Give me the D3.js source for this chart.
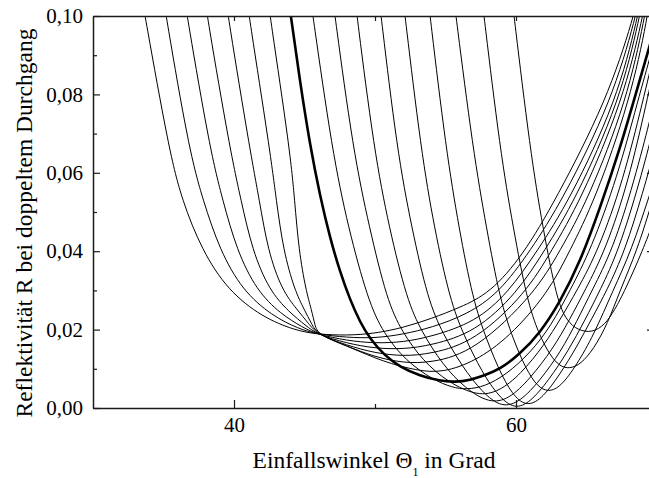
<!DOCTYPE html>
<html><head><meta charset="utf-8">
<script src="https://cdn.jsdelivr.net/npm/d3@7"></script>
<style>body{margin:0;background:#fff}svg{display:block}</style>
</head><body>
<svg id="chart" width="649" height="478"></svg>
<script>
const xMajorTicks = [40, 60];
const xMinorTicks = [50];
const xTickLabels = ["40", "60"];
const yMajorTicks = [0, 0.02, 0.04, 0.06, 0.08, 0.10];
const yMinorTicks = [0.01, 0.03, 0.05, 0.07, 0.09];
const yTickLabels = ["0,00", "0,02", "0,04", "0,06", "0,08", "0,10"];
const xTitle = "Einfallswinkel Θ";
const xTitleSub = "1";
const xTitleEnd = " in Grad";
const yTitle = "Reflektivität R bei doppeltem Durchgang";

const curve00 = [[33.2,0.11],[33.69,0.100],[35.39,0.0658],[36.31,0.0530],[37.73,0.0402],[39.57,0.0300],[41.99,0.0232],[44.33,0.0198],[45.9,0.0188],[48,0.0185],[50,0.0190],[52,0.0205],[54,0.0228],[56,0.0256],[58.16,0.0293],[60.5,0.039],[62.8,0.053],[66.45,0.0785],[68.37,0.100],[69,0.11]];
const curve01 = [[34.75,0.11],[35.18,0.100],[36.81,0.0658],[37.8,0.053],[39.0,0.0402],[40.6,0.030],[42.7,0.0235],[44.6,0.0202],[45.9,0.0188],[48,0.0180],[50,0.0178],[52,0.0188],[54,0.0205],[56.5,0.0238],[58.79,0.0293],[61.0,0.040],[63.3,0.053],[66.81,0.0785],[68.51,0.100],[69.1,0.11]];
const curve02 = [[36.25,0.11],[36.67,0.100],[38.30,0.0658],[39.2,0.053],[40.2,0.0402],[41.6,0.030],[43.3,0.0240],[44.9,0.0205],[45.9,0.0188],[48,0.0172],[50,0.0165],[52,0.0168],[54,0.0182],[57.1,0.0219],[59.43,0.0293],[61.5,0.040],[63.8,0.053],[67.16,0.0785],[68.65,0.100],[69.2,0.11]];
const curve03 = [[37.7,0.11],[38.09,0.100],[39.72,0.0658],[40.5,0.053],[41.3,0.0402],[42.5,0.030],[43.9,0.0245],[45.1,0.0210],[45.9,0.0188],[48,0.0165],[50,0.0152],[52,0.0150],[54,0.0160],[57.1,0.0193],[60.07,0.0293],[62.0,0.040],[64.2,0.053],[67.38,0.0785],[68.79,0.100],[69.3,0.11]];
const curve04 = [[39.2,0.11],[39.57,0.100],[41.13,0.0658],[41.8,0.053],[42.4,0.0402],[43.4,0.030],[44.5,0.025],[45.3,0.0215],[45.9,0.0188],[48,0.0160],[50,0.0140],[52,0.0132],[54,0.0138],[57.1,0.0170],[60.71,0.0293],[62.5,0.040],[64.6,0.053],[67.59,0.0785],[69.01,0.100],[69.5,0.11]];
const curve05 = [[40.7,0.11],[41.06,0.100],[42.55,0.0658],[43.0,0.053],[43.5,0.0402],[44.3,0.030],[45.0,0.025],[45.5,0.0215],[45.9,0.0188],[48,0.0158],[50,0.0130],[52,0.0115],[54,0.0115],[57.1,0.0145],[61.35,0.0293],[63.1,0.040],[65.1,0.053],[67.87,0.0785],[69.15,0.100],[69.6,0.11]];
const curve06 = [[42.2,0.11],[42.55,0.100],[43.97,0.0658],[44.3,0.053],[44.6,0.0402],[45.1,0.030],[45.5,0.025],[45.75,0.021],[45.95,0.0188],[48.23,0.0155],[50.57,0.0118],[53,0.0095],[54.8,0.0090],[57.1,0.0119],[59.5,0.018],[62.27,0.0293],[63.8,0.040],[65.6,0.053],[68.09,0.0785],[69.36,0.100],[69.7,0.11]];
const curve07 = [[43.7,0.108],[44.04,0.1000],[44.68,0.0832],[45.39,0.0671],[46.10,0.0541],[46.81,0.0434],[47.52,0.0347],[48.23,0.0276],[48.94,0.0219],[49.65,0.0176],[50.71,0.0133],[51.77,0.0105],[53.19,0.0082],[54.61,0.0069],[55.67,0.0066],[56.74,0.0071],[57.80,0.0084],[58.87,0.0099],[60.28,0.0138],[61.70,0.0191],[63.12,0.0270],[64.54,0.0372],[65.96,0.0510],[67.38,0.0663],[68.37,0.0786],[69.43,0.0918],[70.21,0.1015]];
const curve08 = [[45.2,0.11],[45.60,0.100],[46.95,0.0658],[48.1,0.046],[49.50,0.0275],[50.6,0.019],[52.2,0.0120],[54.1,0.0072],[55.5,0.0052],[56.5,0.0047],[57.8,0.0055],[59.3,0.0085],[61,0.0140],[62.5,0.0210],[63.83,0.0300],[65.3,0.0403],[67.2,0.059],[68.65,0.0785],[69.7,0.092]];
const curve09 = [[46.8,0.11],[47.16,0.100],[48.44,0.0658],[49.6,0.046],[50.85,0.0275],[51.9,0.0195],[53.4,0.0120],[55.2,0.0065],[57.3,0.0030],[58.8,0.0042],[60.3,0.0085],[62.0,0.0160],[63.2,0.0230],[64.33,0.0300],[65.85,0.0403],[67.6,0.058],[69.01,0.0785],[69.9,0.092]];
const curve10 = [[48.4,0.11],[48.72,0.100],[49.93,0.0658],[51.0,0.046],[52.27,0.0275],[53.3,0.0195],[54.8,0.0110],[56.4,0.0050],[58.1,0.0012],[59.5,0.0022],[61.0,0.0075],[62.6,0.0150],[63.8,0.0225],[64.89,0.0300],[66.35,0.0403],[68.0,0.058],[69.29,0.0785],[70,0.09]];
const curve11 = [[50.1,0.11],[50.43,0.100],[51.56,0.0658],[52.6,0.046],[53.76,0.0275],[54.8,0.0190],[56.2,0.0105],[57.6,0.0040],[59.0,0.0000],[60.3,0.0016],[61.7,0.0070],[63.2,0.0145],[64.3,0.0220],[65.39,0.0300],[66.85,0.0403],[68.4,0.058],[69.6,0.075]];
const curve12 = [[51.8,0.11],[52.13,0.100],[53.26,0.0658],[54.2,0.046],[55.32,0.0275],[56.3,0.0185],[57.6,0.0090],[58.8,0.0028],[59.9,-0.0003],[61.0,0.0014],[62.3,0.0070],[63.7,0.0145],[64.9,0.0225],[65.96,0.0300],[67.3,0.0403],[68.8,0.058],[69.8,0.072]];
const curve13 = [[53.6,0.11],[53.90,0.100],[55.04,0.0658],[55.95,0.046],[56.95,0.0275],[57.9,0.0175],[59.0,0.0080],[60.0,0.0022],[60.9,0.0005],[61.9,0.0026],[63.1,0.0085],[64.3,0.0155],[65.4,0.0230],[66.45,0.0300],[67.75,0.0403],[69.0,0.055],[70,0.068]];
const curve14 = [[55.4,0.11],[55.74,0.100],[56.95,0.0658],[57.9,0.046],[58.87,0.0275],[59.8,0.0175],[60.7,0.0100],[61.5,0.0055],[62.3,0.0040],[63.2,0.0055],[64.3,0.0110],[65.5,0.0185],[66.88,0.0300],[68.2,0.0403],[69.43,0.054],[70.2,0.062]];
const curve15 = [[57.4,0.11],[57.73,0.100],[58.87,0.0658],[59.8,0.046],[60.78,0.0275],[61.6,0.0190],[62.4,0.0135],[63.1,0.0106],[63.8,0.0100],[64.6,0.0112],[65.5,0.0150],[66.5,0.0215],[67.38,0.0300],[68.6,0.0403],[69.6,0.052]];
const curve16 = [[59.53,0.11],[59.86,0.100],[61.0,0.0658],[61.9,0.046],[62.9,0.0275],[63.6,0.0222],[64.4,0.0198],[65.4,0.0192],[66.3,0.0212],[67.0,0.0250],[67.73,0.0300],[69.0,0.0403],[69.8,0.048]];

const curves = [curve00,curve01,curve02,curve03,curve04,curve05,curve06,curve07,curve08,curve09,curve10,curve11,curve12,curve13,curve14,curve15,curve16];
const thickCurve = 7;

const svg = d3.select("#chart");
const x = d3.scaleLinear().domain([30, 70]).range([93, 657]);
const y = d3.scaleLinear().domain([0, 0.1]).range([408, 16]);
const font = "'Liberation Serif','Times New Roman',serif";

svg.append("defs").append("clipPath").attr("id", "plotclip")
  .append("rect").attr("x", x(30)).attr("y", y(0.1)).attr("width", x(70) - x(30)).attr("height", y(0) - y(0.1));

const line = d3.line().x(d => x(d[0])).y(d => y(d[1])).curve(d3.curveBasis);
const g = svg.append("g").attr("clip-path", "url(#plotclip)");
curves.forEach((c, i) => {
  g.append("path").attr("d", line(c)).attr("fill", "none")
    .attr("stroke", "#000").attr("stroke-width", i === thickCurve ? 2.6 : 1)
    .attr("stroke-linejoin", "round");
});

function styleAxis(sel) {
  sel.select(".domain").attr("stroke", "#1a1a1a").attr("stroke-width", 1.5);
  sel.selectAll(".tick line").attr("stroke", "#1a1a1a").attr("stroke-width", 1.2);
  sel.selectAll("text").attr("font-family", font).attr("font-size", 21).attr("fill", "#000");
}
function styleMinor(s) {
  s.select(".domain").remove();
  s.selectAll(".tick line").attr("stroke", "#1a1a1a").attr("stroke-width", 1.2);
}

const bx = svg.append("g").attr("transform", `translate(0,${y(0)})`)
  .call(d3.axisBottom(x).tickValues(xMajorTicks).tickSizeInner(-8).tickSizeOuter(0).tickPadding(9)
    .tickFormat((d, i) => xTickLabels[i]));
styleAxis(bx);
svg.append("g").attr("transform", `translate(0,${y(0)})`)
  .call(d3.axisBottom(x).tickValues(xMinorTicks).tickSizeInner(-4).tickSizeOuter(0).tickFormat(""))
  .call(styleMinor);
const tx = svg.append("g").attr("transform", `translate(0,${y(0.1)})`)
  .call(d3.axisTop(x).tickValues(xMajorTicks.concat(xMinorTicks)).tickSizeInner(-5).tickSizeOuter(0).tickFormat(""));
styleAxis(tx);
const ly = svg.append("g").attr("transform", `translate(${x(30)},0)`)
  .call(d3.axisLeft(y).tickValues(yMajorTicks).tickSizeInner(-7).tickSizeOuter(0).tickPadding(10)
    .tickFormat((d, i) => yTickLabels[i]));
styleAxis(ly);
svg.append("g").attr("transform", `translate(${x(30)},0)`)
  .call(d3.axisLeft(y).tickValues(yMinorTicks).tickSizeInner(-4).tickSizeOuter(0).tickFormat(""))
  .call(styleMinor);
const ry = svg.append("g").attr("transform", `translate(${x(70)},0)`)
  .call(d3.axisRight(y).tickValues(yMajorTicks).tickSizeInner(-10).tickSizeOuter(0).tickFormat(""));
styleAxis(ry);

const xt = svg.append("text").attr("x", 374).attr("y", 468).attr("text-anchor", "middle")
  .attr("font-family", font).attr("font-size", 23.5).attr("fill", "#000");
xt.append("tspan").text(xTitle);
xt.append("tspan").attr("font-size", 12).attr("dy", 8).text(xTitleSub);
xt.append("tspan").attr("dy", -8).text(xTitleEnd);

svg.append("text").attr("transform", "translate(32,223) rotate(-90)").attr("text-anchor", "middle")
  .attr("font-family", font).attr("font-size", 23.5).attr("fill", "#000").text(yTitle);
</script>
</body></html>
